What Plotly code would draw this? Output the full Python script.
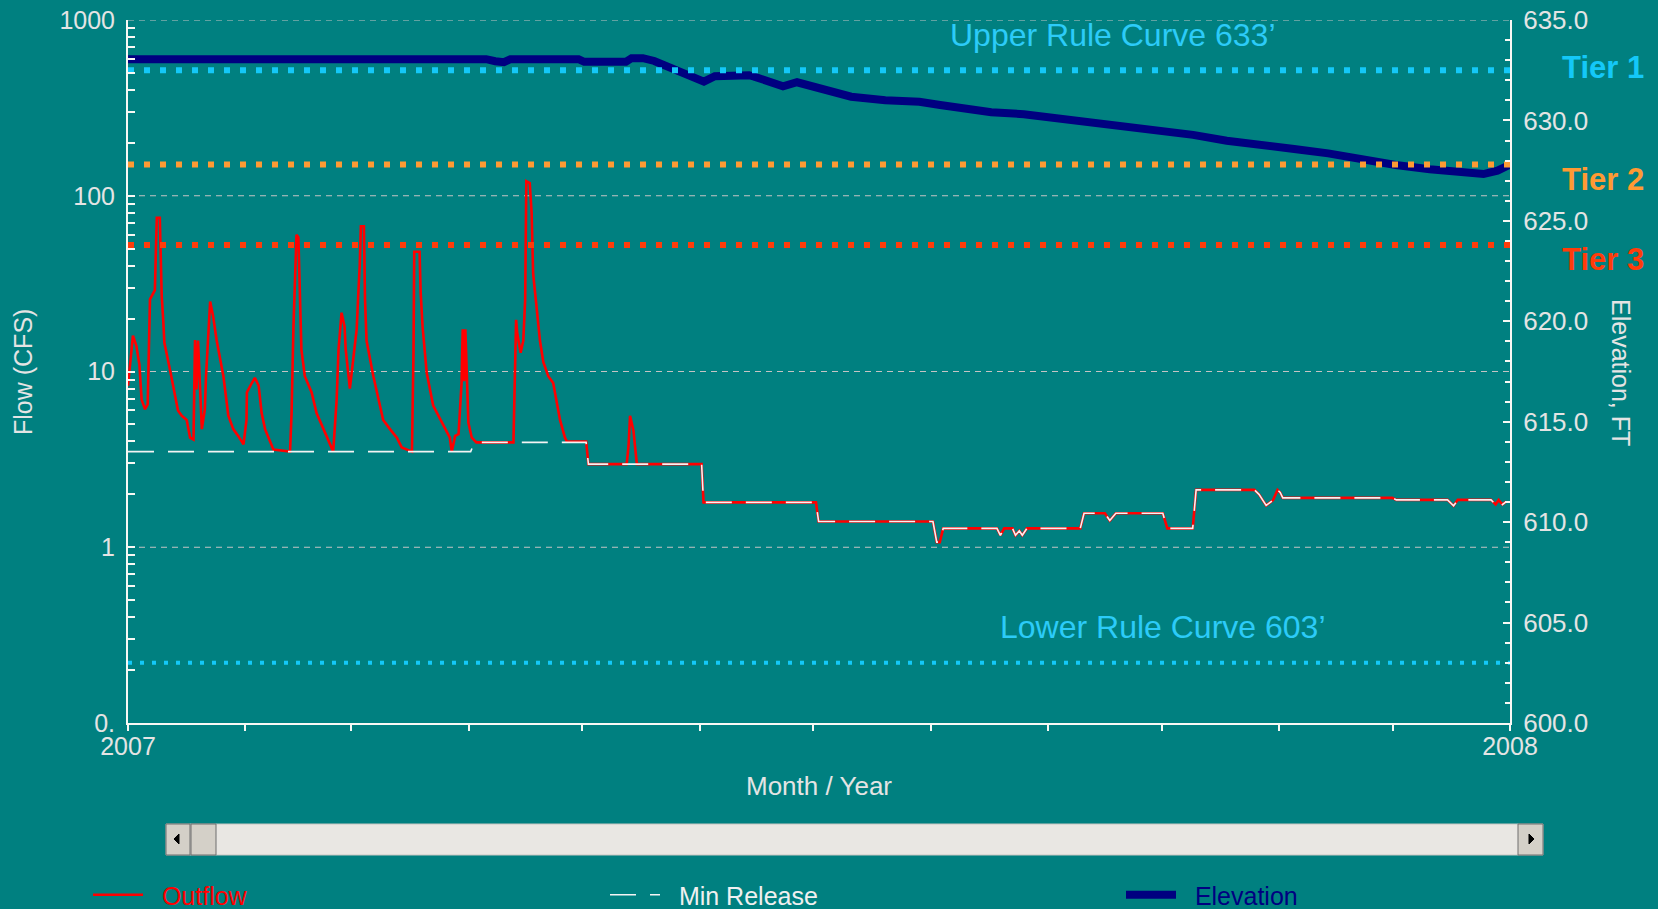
import plotly.graph_objects as go
import pandas as pd

# ---------------- data ----------------
start_date = "2007-01-01"
end_date = "2008-01-01"

outflow_days = [0.0, 0.6, 1.3, 2.2, 3.0, 3.6, 4.5, 5.2, 5.4, 5.8, 7.1, 7.6, 8.4, 8.9, 9.3, 9.6,
                11.1, 11.9, 13.2, 14.2, 15.5, 16.4, 17.3, 17.7, 18.1, 18.5, 19.0, 19.5, 20.3, 20.6,
                21.7, 22.5, 23.4, 25.2, 26.5, 27.8, 29.1, 30.5, 31.3, 31.4, 32.7, 33.5, 34.5, 35.3,
                36.2, 38.4, 42.8, 43.2, 43.7, 44.1, 44.5, 45.0, 45.4, 45.8, 46.7, 48.5, 49.8, 51.6,
                53.4, 54.2, 55.1, 55.6, 56.4, 57.2, 57.5, 58.6, 59.5, 60.4, 60.8, 61.2, 61.5, 62.3,
                62.6, 63.0, 64.8, 66.1, 67.4, 69.2, 71.0, 72.3, 75.0, 75.4, 75.6, 77.0, 77.3, 77.8,
                78.9, 80.6, 83.3, 85.0, 85.5, 86.4, 87.3, 88.1, 88.4, 88.8, 89.1, 89.9, 90.8, 92.0,
                101.8, 102.2, 102.5, 102.8, 103.7, 104.4, 104.9, 105.2, 106.1, 106.6, 107.0, 107.8,
                108.8, 109.7, 111.0, 112.3, 113.2, 114.1, 115.4, 115.9, 121.0, 121.6, 131.7, 132.2,
                132.6, 133.5, 133.9, 134.4, 151.5, 152.0, 181.7, 182.4, 212.6, 213.6, 214.4, 215.3,
                229.5, 230.4, 231.4, 233.6, 234.4, 235.4, 236.2, 237.4, 251.5, 252.5, 258.0, 259.3,
                260.9, 273.3, 274.5, 281.2, 282.1, 297.5, 298.7, 300.6, 302.4, 303.6, 304.3, 305.0,
                333.9, 335.0, 348.5, 350.1, 351.2, 360.0, 361.2, 362.0, 363.0, 364.0]
outflow_cfs = [8.3, 11, 16, 14, 11, 6.9, 6.1, 6.5, 12.8, 25.7, 29, 75, 75, 27, 19.7, 14.6,
               10.2, 8.3, 6.0, 5.6, 5.3, 4.2, 4.1, 15.1, 7.9, 15, 7.5, 4.7, 6.1, 9.4,
               25, 20.5, 15.1, 9.4, 5.6, 4.7, 4.3, 3.85, 5.3, 7.6, 8.6, 9.2, 8.3, 5.8,
               4.7, 3.6, 3.5, 5.8, 18, 33, 60, 58, 24.5, 13.3, 9.4, 7.6, 5.8, 4.7,
               3.9, 3.5, 6.9, 13.3, 21.6, 18, 13.3, 8.0, 11.8, 17.4, 27, 40, 67, 67,
               25.7, 15, 9.4, 7.2, 5.3, 4.7, 4.2, 3.7, 3.5, 12.8, 48, 48, 28, 18,
               9.8, 6.4, 4.9, 4.2, 3.5, 4.3, 4.4, 8.6, 17.4, 8.8, 17.4, 5.1, 4.2, 3.95,
               3.95, 9.0, 19.7, 16.5, 12.8, 15, 25.7, 121, 118, 80, 36, 24.5,
               15, 11.3, 9.4, 8.6, 6.9, 5.3, 4.2, 4.0, 4.0, 2.97, 2.97, 3.77,
               5.6, 4.6, 3.77, 2.97, 2.97, 1.8, 1.8, 1.40, 1.40, 1.07, 1.07, 1.28,
               1.28, 1.17, 1.28, 1.28, 1.17, 1.24, 1.17, 1.28, 1.28, 1.56, 1.56, 1.42,
               1.56, 1.56, 1.28, 1.28, 2.12, 2.12, 2.0, 1.73, 1.85, 2.12, 2.05, 1.91,
               1.91, 1.86, 1.86, 1.72, 1.86, 1.86, 1.75, 1.86, 1.75, 1.82]

minrel_days = [0.0, 90.5, 91.5, 121.0, 121.6, 151.5, 152.0, 181.7, 182.4, 212.6, 213.6, 214.4,
               215.3, 229.5, 230.4, 231.4, 233.6, 234.4, 235.4, 236.2, 237.4, 251.5, 252.5,
               258.0, 259.3, 260.9, 273.3, 274.5, 281.2, 282.1, 297.5, 298.7, 300.6, 302.4,
               303.6, 304.3, 305.0, 333.9, 335.0, 348.5, 350.1, 351.2, 360.0, 361.2, 362.0,
               363.0, 364.0]
minrel_cfs = [3.5, 3.5, 3.95, 3.95, 2.97, 2.97, 1.8, 1.8, 1.40, 1.40, 1.07, 1.07,
              1.28, 1.28, 1.17, 1.28, 1.28, 1.17, 1.24, 1.17, 1.28, 1.28, 1.56,
              1.56, 1.42, 1.56, 1.56, 1.28, 1.28, 2.12, 2.12, 2.0, 1.73, 1.85,
              2.12, 2.05, 1.91, 1.91, 1.86, 1.86, 1.72, 1.86, 1.86, 1.75, 1.86,
              1.75, 1.82]

elev_days = [0, 82, 94.6, 97, 99.3, 101, 119, 120.5, 131.5, 133, 136, 139, 143.7, 148.4, 152.1,
             155, 158, 164, 165.4, 169.2, 173, 176.7, 180.4, 186, 191, 200, 209, 214.5, 224,
             228, 236.6, 245.5, 254.5, 263.4, 272.3, 281.3, 290.2, 299.1, 308, 317, 326,
             334.8, 343.8, 352.7, 358, 361.7, 364.8]
elev_ft = [633.05, 633.05, 633.05, 632.95, 632.9, 633.05, 633.05, 632.92, 632.92, 633.1, 633.1,
           632.96, 632.6, 632.26, 631.93, 632.2, 632.25, 632.25, 632.18, 631.93, 631.7, 631.9,
           631.71, 631.43, 631.18, 631.0, 630.93, 630.77, 630.52, 630.41, 630.31, 630.11,
           629.86, 629.66, 629.49, 629.28, 628.99, 628.83, 628.58, 628.36, 628.03, 627.78,
           627.57, 627.45, 627.33, 627.5, 627.78]

grid_flows = [1, 10, 100, 1000]
tier_names = ["Tier 1", "Tier 2", "Tier 3"]
tier_elev = [632.5, 627.8, 623.8]
tier_colors = ["#14C8F8", "#FF9A33", "#FF3C0A"]
lower_rule_elev = 603.0
rule_labels = ["Upper Rule Curve 633\u2019", "Lower Rule Curve 603\u2019"]
flow_ticks = [0.1, 1, 10, 100, 1000]
flow_tick_labels = ["0.", "1", "10", "100", "1000"]
x_tick_labels = ["2007", "2008"]

# ---------------- helpers ----------------
W, H = 1658, 909
L, R, T, B = 128, 1510, 20, 723
BG = "#008080"
TXT = "#E4E4E4"
AX = "#F8F8F4"
FONT = "Liberation Sans, Arial, sans-serif"

t0 = pd.Timestamp(start_date)
t1 = pd.Timestamp(end_date)


def to_dates(days):
    return t0 + pd.to_timedelta(days, unit="D")


def px_x(px):
    return (px - L) / (R - L)


def px_y(py):
    return (B - py) / (B - T)


fig = go.Figure()

# decade grid lines (flow axis)
for v in grid_flows:
    fig.add_trace(go.Scatter(x=[t0, t1], y=[v, v], mode="lines", yaxis="y",
                             line=dict(color="#C4C4C4", width=1.2, dash="6px,5px"),
                             showlegend=False, hoverinfo="skip"))

NB = "\u00a0"
fig.add_trace(go.Scatter(x=to_dates(outflow_days), y=outflow_cfs, mode="lines", yaxis="y",
                         name='<span style="color:#FF0000">' + NB + NB + 'Outflow</span>',
                         legend="legend", line=dict(color="#FF0000", width=2.6)))
fig.add_trace(go.Scatter(x=to_dates(minrel_days), y=minrel_cfs, mode="lines", yaxis="y",
                         name='<span style="color:#F0F0F0">' + NB + NB + 'Min Release</span>',
                         legend="legend2", line=dict(color="#F4F4F4", width=1.6, dash="26px,14px")))
fig.add_trace(go.Scatter(x=to_dates(elev_days), y=elev_ft, mode="lines", yaxis="y2",
                         name='<span style="color:#000080">' + NB + NB + 'Elevation</span>',
                         legend="legend3", line=dict(color="#000080", width=8)))

for e, c in zip(tier_elev, tier_colors):
    fig.add_trace(go.Scatter(x=[t0, t1], y=[e, e], mode="lines", yaxis="y2",
                             line=dict(color=c, width=6, dash="6px,10px"),
                             showlegend=False, hoverinfo="skip"))
fig.add_trace(go.Scatter(x=[t0, t1], y=[lower_rule_elev, lower_rule_elev], mode="lines", yaxis="y2",
                         line=dict(color=tier_colors[0], width=4, dash="4px,8px"),
                         showlegend=False, hoverinfo="skip"))

# ticks
month_ticks = pd.date_range(t0, t1, freq="MS")
month_text = [x_tick_labels[0]] + [""] * (len(month_ticks) - 2) + [x_tick_labels[1]]

flow_minor = []
for dec in [0.1, 1, 10, 100]:
    for k in range(1, 10):
        flow_minor.append(round(dec * k, 6))
flow_minor.append(1000)
flow_text = [flow_tick_labels[flow_ticks.index(v)] if v in flow_ticks else "" for v in flow_minor]


def ann(text, x, y, size, color, angle=0):
    return dict(text=text, x=px_x(x), y=px_y(y), xref="paper", yref="paper",
                xanchor="center", yanchor="middle", textangle=angle, showarrow=False,
                font=dict(size=size, color=color, family=FONT))


annotations = [
    ann("Flow (CFS)", 23, 372, 25, TXT, -90),
    ann("Elevation, FT", 1621, 372, 25, TXT, 90),
    ann("Month / Year", 819, 786, 26, TXT),
    ann(rule_labels[0], 1113, 35, 32, "#2CCBF8"),
    ann(rule_labels[1], 1163, 627, 32, "#2CCBF8"),
]
for name, c, yy in zip(tier_names, tier_colors, [67, 179, 259]):
    annotations.append(ann("<b>%s</b>" % name, 1603, yy, 31, c))

# scrollbar chrome
shapes = []


def rect(x0, y0, x1, y1, fill, line="#808080"):
    shapes.append(dict(type="rect", xref="paper", yref="paper", x0=px_x(x0), x1=px_x(x1),
                       y0=px_y(y1), y1=px_y(y0), fillcolor=fill, line=dict(color=line, width=1),
                       layer="above"))


rect(166, 824, 1543, 855, "#E9E7E3", "#C8C6C2")
rect(166, 824, 190, 855, "#D4D0C8", "#6E6E6E")
rect(191, 824, 216, 855, "#D4D0C8", "#6E6E6E")
rect(1518, 824, 1543, 855, "#D4D0C8", "#6E6E6E")


def tri(pts):
    p = "M " + " L ".join("%f,%f" % (px_x(a), px_y(b)) for a, b in pts) + " Z"
    shapes.append(dict(type="path", path=p, xref="paper", yref="paper", fillcolor="#000000",
                       line=dict(color="#000000", width=1), layer="above"))


tri([(174, 839), (179, 834), (179, 844)])
tri([(1534, 839), (1529, 834), (1529, 844)])


def legend_at(px):
    return dict(orientation="h", xref="container", yref="container",
                x=px / W, y=1 - 872 / H, xanchor="left", yanchor="top", itemwidth=50,
                bgcolor="rgba(0,0,0,0)", font=dict(size=25, family=FONT))


fig.update_layout(
    width=W, height=H,
    margin=dict(l=L, r=W - R, t=T, b=H - B, pad=0, autoexpand=False),
    paper_bgcolor=BG, plot_bgcolor=BG,
    font=dict(family=FONT, size=25, color=TXT),
    hovermode=False,
    xaxis=dict(type="date", range=[t0, t1], tickvals=month_ticks, ticktext=month_text,
               ticks="outside", ticklen=6, tickwidth=2, tickcolor=AX, automargin=False,
               ticklabelstandoff=-6,
               showline=True, linecolor=AX, linewidth=2, showgrid=False, zeroline=False,
               tickfont=dict(size=25, color=TXT, family=FONT)),
    yaxis=dict(type="log", range=[-1, 3], tickvals=flow_minor, ticktext=flow_text,
               ticks="inside", ticklen=7, tickwidth=2, tickcolor=AX, automargin=False,
               ticklabelstandoff=6,
               showline=True, linecolor=AX, linewidth=2, showgrid=False, zeroline=False,
               tickfont=dict(size=25, color=TXT, family=FONT)),
    yaxis2=dict(overlaying="y", side="right", range=[600, 635], dtick=5, tick0=600,
                tickformat=".1f", ticks="inside", ticklen=7, tickwidth=2, tickcolor=AX,
                automargin=False, ticklabelstandoff=6,
                minor=dict(dtick=1, ticks="inside", ticklen=5, tickwidth=2, tickcolor=AX),
                showline=True, linecolor=AX, linewidth=2, showgrid=False, zeroline=False,
                tickfont=dict(size=26, color=TXT, family=FONT)),
    legend=legend_at(88),
    legend2=legend_at(605),
    legend3=legend_at(1121),
    annotations=annotations,
    shapes=shapes,
)

fig.write_html("out.html", config={"displayModeBar": False}, post_script=(
    "document.body.style.margin='0';document.body.style.overflow='hidden';"
    "document.body.style.background='#008080';"))
